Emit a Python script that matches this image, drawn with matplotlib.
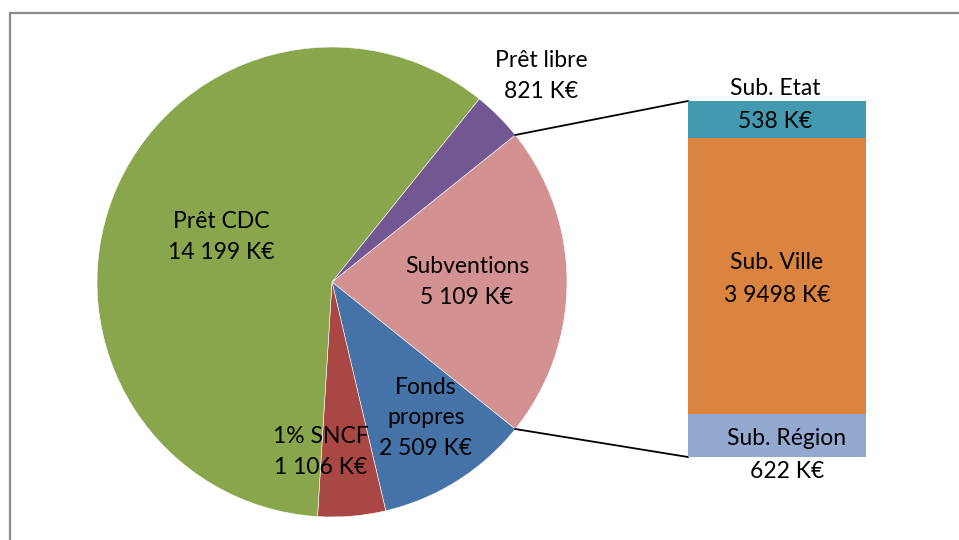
import matplotlib
matplotlib.use("Agg")
import matplotlib.pyplot as plt
from matplotlib.patches import Rectangle
import numpy as np

plt.rcParams['font.family'] = ['Lato', 'DejaVu Sans']

# Pie data (order: clockwise from the split-off slice)
pie_labels = ["Subventions", "Fonds\npropres", "1% SNCF", "Prêt CDC", "Prêt libre"]
pie_values = [5109, 2509, 1106, 14199, 821]
pie_value_text = ["5 109 K€", "2 509 K€", "1 106 K€", "14 199 K€", "821 K€"]
pie_colors = ["#D39191", "#4572A7", "#A84744", "#89A64C", "#725793"]

# Bar (breakdown of Subventions), bottom to top
bar_labels = ["Sub. Région", "Sub. Ville", "Sub. Etat"]
bar_values = [622, 3949, 538]
bar_value_text = ["622 K€", "3 9498 K€", "538 K€"]
bar_colors = ["#93A9D0", "#DB843F", "#4399AF"]

W, H = 959, 540
fig = plt.figure(figsize=(W / 100, H / 100), dpi=100)
ax = fig.add_axes([0, 0, 1, 1])

def Y(p):
    return H - p

cx, cy, r = 332, Y(282), 235
total = sum(pie_values)
start = 360 * pie_values[0] / total / 2
ax.pie(pie_values, colors=pie_colors, startangle=start, counterclock=False,
       center=(cx, cy), radius=r, frame=True,
       wedgeprops=dict(edgecolor="white", linewidth=0.4))
ax.set_xlim(0, W)
ax.set_ylim(0, H)
ax.set_aspect("equal")
ax.axis("off")

# border
ax.add_patch(Rectangle((9.5, -20), 1000, Y(13) + 20, fill=False,
                       edgecolor="#8C8C8C", lw=1.6, zorder=0))

fs = 16.5
pie_text_pos = [(467, 282), (426, 418), (321, 452), (221, 237), (541, 76)]
for lab, val, (x, y) in zip(pie_labels, pie_value_text, pie_text_pos):
    ax.text(x, Y(y), lab + "\n" + val, ha="center", va="center",
            fontsize=fs, linespacing=1.58, color="black")

# bar axes
bx0, by_top, bx1, by_bot = 688, 101, 866, 457
bax = fig.add_axes([bx0 / W, (H - by_bot) / H, (bx1 - bx0) / W, (by_bot - by_top) / H])
bottoms = np.cumsum([0] + bar_values[:-1])
bax.bar([0] * len(bar_values), bar_values, bottom=bottoms, width=1.0,
        color=bar_colors, edgecolor="none")
bax.set_xlim(-0.5, 0.5)
bax.set_ylim(0, sum(bar_values))
bax.axis("off")

bar_text_pos = [(787, 455), (777, 279), (775, 105)]
for lab, val, (x, y) in zip(bar_labels, bar_value_text, bar_text_pos):
    bax.text(x, Y(y), lab + "\n" + val, ha="center", va="center",
             fontsize=fs, linespacing=1.65, color="black", zorder=5,
             transform=ax.transData, clip_on=False)

# connector lines
a1 = np.deg2rad(start)
a2 = np.deg2rad(-start)
ax.plot([cx + r * np.cos(a1), bx0], [cy + r * np.sin(a1), Y(by_top)],
        color="black", lw=1.3)
ax.plot([cx + r * np.cos(a2), bx0], [cy + r * np.sin(a2), Y(by_bot)],
        color="black", lw=1.3)

fig.savefig("out.png", dpi=100)
